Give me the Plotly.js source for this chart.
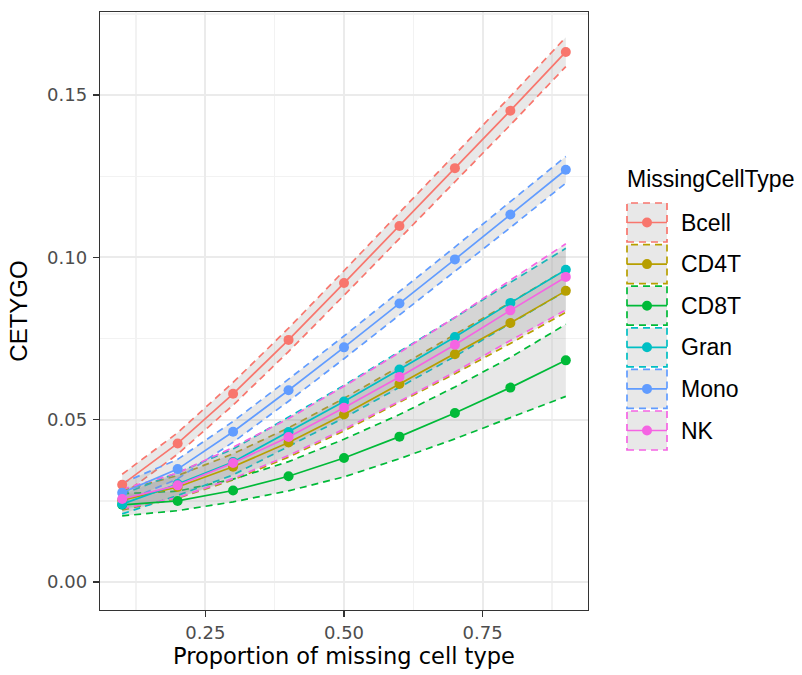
<!DOCTYPE html>
<html>
<head>
<meta charset="utf-8">
<script src="https://cdn.plot.ly/plotly-3.0.1.min.js"></script>
<style>html,body{margin:0;padding:0;background:#fff;}#chart{width:802px;height:675px;}</style>
</head>
<body>
<div id="chart"></div>
<script>
// ---- data ----
const proportion = [0.1, 0.2, 0.3, 0.4, 0.5, 0.6, 0.7, 0.8, 0.9];
const cellTypes = ["Bcell", "CD4T", "CD8T", "Gran", "Mono", "NK"];
const colors = ["#F8766D", "#B79F00", "#00BA38", "#00BFC4", "#619CFF", "#F564E3"];

const meanBcell = [0.0300, 0.0427, 0.0580, 0.0746, 0.0921, 0.1097, 0.1275, 0.1452, 0.1633];
const meanCD4T  = [0.0252, 0.0293, 0.0355, 0.0430, 0.0516, 0.0610, 0.0702, 0.0798, 0.0897];
const meanCD8T  = [0.0238, 0.0250, 0.0282, 0.0326, 0.0382, 0.0448, 0.0521, 0.0599, 0.0683];
const meanGran  = [0.0240, 0.0302, 0.0370, 0.0462, 0.0556, 0.0655, 0.0755, 0.0860, 0.0962];
const meanMono  = [0.0275, 0.0348, 0.0463, 0.0591, 0.0723, 0.0858, 0.0994, 0.1132, 0.1270];
const meanNK    = [0.0256, 0.0298, 0.0367, 0.0447, 0.0537, 0.0632, 0.0731, 0.0837, 0.0940];

const sdBcell = [0.0032, 0.0033, 0.0035, 0.0036, 0.0038, 0.0040, 0.0042, 0.0044, 0.0045];
const sdCD4T  = [0.0030, 0.0035, 0.0040, 0.0045, 0.0050, 0.0055, 0.0060, 0.0063, 0.0066];
const sdCD8T  = [0.0034, 0.0030, 0.0035, 0.0045, 0.0058, 0.0068, 0.0080, 0.0093, 0.0111];
const sdGran  = [0.0030, 0.0035, 0.0040, 0.0045, 0.0050, 0.0055, 0.0060, 0.0063, 0.0066];
const sdMono  = [0.0030, 0.0030, 0.0032, 0.0034, 0.0035, 0.0036, 0.0038, 0.0040, 0.0041];
const sdNK    = [0.0030, 0.0038, 0.0048, 0.0057, 0.0066, 0.0075, 0.0084, 0.0093, 0.0102];

const means = [meanBcell, meanCD4T, meanCD8T, meanGran, meanMono, meanNK];
const sds = [sdBcell, sdCD4T, sdCD8T, sdGran, sdMono, sdNK];

// ---- layout geometry (pixels) ----
const W = 802, H = 675;
const L = 100, R = 588, T = 12, B = 610;
const px2x = p => (p - L) / (R - L);
const py2y = p => (B - p) / (B - T);

const FONT = "Liberation Sans, Arial, Helvetica, sans-serif";
const AXFONT = "DejaVu Sans, Liberation Sans, sans-serif";
const ribbonFill = "rgba(140,140,140,0.2)";
const DASH = "7px,5px";

const traces = [];
// ribbons first
cellTypes.forEach((ct, i) => {
  const lo = means[i].map((m, k) => m - sds[i][k]);
  const hi = means[i].map((m, k) => m + sds[i][k]);
  traces.push({x: proportion, y: lo, type: "scatter", mode: "lines",
    line: {color: colors[i], width: 1.7, dash: DASH}, showlegend: false, hoverinfo: "skip"});
  traces.push({x: proportion, y: hi, type: "scatter", mode: "lines", fill: "tonexty", fillcolor: ribbonFill,
    line: {color: colors[i], width: 1.7, dash: DASH}, showlegend: false, hoverinfo: "skip"});
});
// lines + points
cellTypes.forEach((ct, i) => {
  traces.push({x: proportion, y: means[i], type: "scatter", mode: "lines+markers", name: ct,
    line: {color: colors[i], width: 1.7}, marker: {color: colors[i], size: 10}, showlegend: false});
});

// ---- manual legend (ggplot style keys) ----
const shapes = [];
const annotations = [];
annotations.push({xref: "paper", yref: "paper", x: px2x(625), y: py2y(179), xanchor: "left", yanchor: "middle",
  text: "MissingCellType", showarrow: false, font: {family: FONT, size: 23, color: "#000"}});
const keyLeft = 627, keyRight = 667, keyTop0 = 203, keyStep = 41.6, keyH = 39;
cellTypes.forEach((ct, i) => {
  const top = keyTop0 + i * keyStep, bot = top + keyH, mid = (top + bot) / 2;
  shapes.push({type: "rect", xref: "paper", yref: "paper", x0: px2x(keyLeft), x1: px2x(keyRight),
    y0: py2y(bot), y1: py2y(top), fillcolor: "#e8e8e8", line: {color: colors[i], width: 1.7, dash: DASH}, layer: "above"});
  shapes.push({type: "line", xref: "paper", yref: "paper", x0: px2x(keyLeft), x1: px2x(keyRight),
    y0: py2y(mid), y1: py2y(mid), line: {color: colors[i], width: 1.7}, layer: "above"});
  shapes.push({type: "circle", xref: "paper", yref: "paper", xsizemode: "pixel", ysizemode: "pixel",
    xanchor: px2x((keyLeft + keyRight) / 2), yanchor: py2y(mid), x0: -5, x1: 5, y0: -5, y1: 5,
    fillcolor: colors[i], line: {width: 0}, layer: "above"});
  annotations.push({xref: "paper", yref: "paper", x: px2x(679), y: py2y(mid), xanchor: "left", yanchor: "middle",
    text: ct, showarrow: false, font: {family: FONT, size: 23, color: "#000"}});
});

const layout = {
  width: W, height: H,
  margin: {l: L, r: W - R, t: T, b: H - B, pad: 0},
  paper_bgcolor: "#fff", plot_bgcolor: "#fff",
  showlegend: false,
  font: {family: FONT},
  xaxis: {
    range: [0.06, 0.94], tickmode: "linear", tick0: 0, dtick: 0.25, tickformat: ".2f",
    showgrid: true, gridcolor: "#ebebeb", gridwidth: 2,
    minor: {tick0: 0, dtick: 0.125, showgrid: true, gridcolor: "#f2f2f2", gridwidth: 1.2, ticks: ""},
    zeroline: false, showline: true, mirror: true, linecolor: "#333333", linewidth: 1.3,
    ticks: "outside", ticklen: 6, tickwidth: 1.3, tickcolor: "#333333",
    tickfont: {family: AXFONT, size: 18, color: "#4d4d4d"},
    title: {text: "Proportion of missing cell type", font: {family: AXFONT, size: 22.5, color: "#000"}, standoff: 5}
  },
  yaxis: {
    range: [-0.0086, 0.1756], tickmode: "linear", tick0: 0, dtick: 0.05, tickformat: ".2f",
    showgrid: true, gridcolor: "#ebebeb", gridwidth: 2,
    minor: {tick0: 0, dtick: 0.025, showgrid: true, gridcolor: "#f2f2f2", gridwidth: 1.2, ticks: ""},
    zeroline: false, showline: true, mirror: true, linecolor: "#333333", linewidth: 1.3,
    ticks: "outside", ticklen: 6, tickwidth: 1.3, tickcolor: "#333333", ticklabelstandoff: 2,
    tickfont: {family: AXFONT, size: 18, color: "#4d4d4d"},
    title: {text: "CETYGO", font: {family: FONT, size: 24, color: "#000"}, standoff: 12}
  },
  shapes: shapes,
  annotations: annotations
};

Plotly.newPlot("chart", traces, layout, {displayModeBar: false, staticPlot: true});
</script>
</body>
</html>
